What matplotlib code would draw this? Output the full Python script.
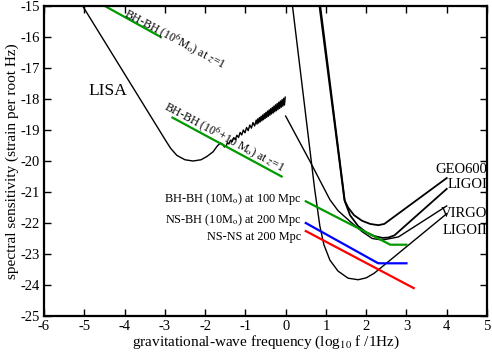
import matplotlib
matplotlib.use("Agg")
import matplotlib.pyplot as plt

plt.rcParams['font.family'] = ['Liberation Serif', 'DejaVu Serif']
plt.rcParams['mathtext.fontset'] = 'stix'
plt.rcParams['axes.unicode_minus'] = False

# ---- data (log10 f, log10 h) ----
lisa_x = [-5.04, -2.95, -2.85, -2.7, -2.5, -2.3, -2.1, -1.95, -1.8, -1.7, -1.62, -1.57, -1.52, -1.47]
lisa_y = [-15.0, -19.4, -19.6, -19.82, -19.96, -20.0, -19.96, -19.85, -19.7, -19.52, -19.42, -19.45, -19.55, -19.5]

lisa_noise_x = [-1.45, -1.41, -1.37, -1.33, -1.29, -1.25, -1.21, -1.17, -1.13, -1.09, -1.05, -1.01,
                -0.97, -0.93, -0.89, -0.85, -0.81, -0.77, -0.73,
                -0.71, -0.69, -0.67, -0.65, -0.63, -0.61, -0.59, -0.57, -0.55, -0.53, -0.51,
                -0.49, -0.47, -0.45, -0.43, -0.41, -0.39, -0.37, -0.35, -0.33, -0.31, -0.29,
                -0.27, -0.25, -0.23, -0.21, -0.19, -0.17, -0.15, -0.13, -0.11, -0.09, -0.07,
                -0.05, -0.03, -0.01]
lisa_noise_y = [-19.41, -19.45, -19.33, -19.38, -19.25, -19.31, -19.17, -19.24, -19.08, -19.16, -19.00, -19.09,
                -18.92, -19.02, -18.84, -18.94, -18.76, -18.87, -18.68,
                -18.811, -18.639, -18.774, -18.597, -18.739, -18.557, -18.702, -18.515, -18.667, -18.474, -18.630,
                -18.433, -18.594, -18.392, -18.558, -18.350, -18.522, -18.310, -18.485, -18.269, -18.450, -18.227,
                -18.413, -18.187, -18.377, -18.145, -18.341, -18.104, -18.305, -18.063, -18.268, -18.022, -18.233,
                -17.980, -18.196, -17.940]

geo_x = [0.84, 1.46, 1.55, 1.7, 1.9, 2.1, 2.3, 2.45, 4.0]
geo_y = [-15.0, -21.26, -21.5, -21.75, -21.93, -22.03, -22.07, -22.03, -20.55]

ligo1_x = [0.86, 1.47, 1.6, 1.8, 2.0, 2.2, 2.4, 2.55, 2.7, 4.0]
ligo1_y = [-15.0, -21.3, -21.75, -22.1, -22.3, -22.42, -22.48, -22.47, -22.4, -20.9]

virgo_x = [0.0, 0.6, 1.1, 1.3, 1.6, 1.9, 2.15, 2.4, 2.8, 4.0]
virgo_y = [-18.55, -20.0, -21.25, -21.6, -21.95, -22.28, -22.5, -22.55, -22.45, -21.45]

ligo2_x = [0.17, 0.45, 0.72, 0.85, 0.95, 1.1, 1.3, 1.55, 1.8, 2.0, 2.2, 4.0]
ligo2_y = [-15.0, -18.0, -20.9, -22.1, -22.7, -23.2, -23.55, -23.78, -23.83, -23.77, -23.62, -21.7]

bhbh_lisa1_x = [-4.49, -3.10]
bhbh_lisa1_y = [-15.0, -16.0]
bhbh_lisa2_x = [-2.81, -0.1]
bhbh_lisa2_y = [-18.6, -20.5]

bhbh_x = [0.5, 2.6, 3.0]
bhbh_y = [-21.3, -22.7, -22.7]
nsbh_x = [0.5, 2.3, 3.0]
nsbh_y = [-22.0, -23.3, -23.3]
nsns_x = [0.5, 3.18]
nsns_y = [-22.26, -24.1]

xticks = [-6, -5, -4, -3, -2, -1, 0, 1, 2, 3, 4, 5]
yticks = [-25, -24, -23, -22, -21, -20, -19, -18, -17, -16, -15]

detector_labels = ['GEO600', 'LIGOI', 'VIRGO', 'LIGOII']
detector_label_y = [-20.26, -20.77, -21.68, -22.23]

source_labels = ['BH-BH (10M$_\\mathrm{o}$) at 100 Mpc',
                 'NS-BH (10M$_\\mathrm{o}$) at 200 Mpc',
                 'NS-NS at 200 Mpc']
source_label_y = [-21.32, -22.0, -22.55]

# ---- figure ----
fig = plt.figure(figsize=(4.92, 3.54), dpi=100)
ax = fig.add_axes([44/492, 1-316/354, (487-44)/492, (316-6)/354])

black_lw = 1.0
ax.plot(lisa_x + lisa_noise_x, lisa_y + lisa_noise_y, color='black', lw=black_lw)
ax.plot(geo_x, geo_y, color='black', lw=1.3)
ax.plot(ligo1_x, ligo1_y, color='black', lw=1.3)
ax.plot(virgo_x, virgo_y, color='black', lw=black_lw)
ax.plot(ligo2_x, ligo2_y, color='black', lw=black_lw)

green = '#009a00'
ax.plot(bhbh_lisa1_x, bhbh_lisa1_y, color=green, lw=1.6)
ax.plot(bhbh_lisa2_x, bhbh_lisa2_y, color=green, lw=1.6)
ax.plot(bhbh_x, bhbh_y, color=green, lw=1.6)
ax.plot(nsbh_x, nsbh_y, color='#0000ff', lw=1.6)
ax.plot(nsns_x, nsns_y, color='#ff0000', lw=1.6)

ax.set_xlim(-6, 5)
ax.set_ylim(-25, -15)
ax.set_xticks(xticks)
ax.set_yticks(yticks)
ax.tick_params(direction='in', top=True, right=True, length=5, width=1, labelsize=10.5, pad=3)
for s in ax.spines.values():
    s.set_linewidth(1.6)

ax.set_xlabel('gravitational-wave frequency (log$_{10}$ f /1Hz)', fontsize=11, labelpad=0)
ax.set_ylabel('spectral sensitivity (strain per root Hz)', fontsize=11, labelpad=1)

ax.text(-4.42, -17.74, 'LISA', fontsize=12.5, ha='center', va='center')

ax.text(-4.03, -15.33, 'BH-BH (10$^6$M$_\\mathrm{o}$) at $z$=1', fontsize=8.6,
        rotation=-28, rotation_mode='anchor', ha='left', va='baseline')
ax.text(-3.04, -18.33, 'BH-BH (10$^6$+10 M$_\\mathrm{o}$) at $z$=1', fontsize=8.6,
        rotation=-28, rotation_mode='anchor', ha='left', va='baseline')

for lab, yy in zip(source_labels, source_label_y):
    ax.text(0.4, yy, lab, fontsize=8.8, ha='right', va='baseline')

for lab, yy in zip(detector_labels, detector_label_y):
    ax.text(5.0, yy, lab, fontsize=10.5, ha='right', va='center')

fig.savefig('out.png', dpi=100)
